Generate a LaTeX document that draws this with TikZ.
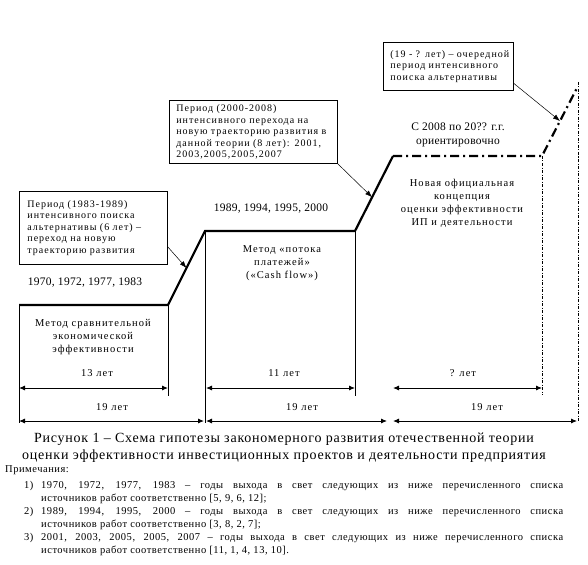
\documentclass[tikz,border=0pt]{standalone}
\usepackage{fontspec}
\setmainfont{Liberation Serif}
\newfontfamily\lsA[LetterSpace=10]{Liberation Serif}
\newfontfamily\lsB[LetterSpace=5]{Liberation Serif}
\newfontfamily\lsCap[LetterSpace=5.5]{Liberation Serif}
\newfontfamily\lsC[LetterSpace=2.5]{Liberation Serif}
\usetikzlibrary{arrows.meta,calc}
\newcommand\fsz[2]{\fontsize{#1}{#2}\selectfont}
\begin{document}
\begin{tikzpicture}[x=1pt,y=-1pt,
  thickline/.style={line width=2.2pt},
  thinline/.style={line width=0.9pt},
  dashdotthick/.style={line width=2.2pt,dash pattern=on 9pt off 4pt on 2pt off 4pt},
  dotthin/.style={line width=0.7pt,dash pattern=on 3pt off 1.5pt on 1pt off 1.5pt},
  dimarrow/.style={line width=0.9pt,{Latex[length=6pt,width=5pt]}-{Latex[length=6pt,width=5pt]}},
  leader/.style={line width=0.5pt,-{Latex[length=7pt,width=5pt]}},
  callout/.style={draw,line width=0.8pt,anchor=north west,inner sep=0pt,align=left,font=\lsA\fsz{10}{11.6}},
  lbl/.style={inner sep=0pt,font=\lsC\fsz{11.5}{13}},
  steptxt/.style={inner sep=0pt,align=center,font=\lsA\fsz{10.5}{13}}
]
\useasboundingbox (0,0) rectangle (588,564);

% staircase coordinates
\coordinate (A0) at (19,305);
\coordinate (A1) at (168,305);
\coordinate (A2) at (205,231);
\coordinate (A3) at (355,231);
\coordinate (A4) at (393,156);
\coordinate (A5) at (542,156);
\coordinate (A6) at (578,86);

\draw[thickline] (A0) -- (A1) -- (A2) -- (A3) -- (A4);
\draw[dashdotthick] (A4) -- (A5) -- (A6);

% verticals
\coordinate (V1) at (19,423);
\coordinate (V2) at (168,396);
\coordinate (V3) at (205,423);
\coordinate (V4) at (355,396);
\coordinate (V5) at (542,395);
\coordinate (V6a) at (578,82);
\coordinate (V6) at (578,421);
\draw[thinline] (A0) -- (V1);
\draw[thinline] (A1) -- (V2);
\draw[thinline] (A2) -- (V3);
\draw[thinline] (A3) -- (V4);
\draw[dotthin] (A5) -- (V5);
\draw[dotthin] (V6a) -- (V6);

% dimension arrows
\coordinate (d1a) at (19,388);  \coordinate (d1b) at (168,388);
\coordinate (d2a) at (19,421);  \coordinate (d2b) at (204,421);
\coordinate (d3a) at (206,388); \coordinate (d3b) at (355,388);
\coordinate (d4a) at (206,421); \coordinate (d4b) at (387,421);
\coordinate (d5a) at (393,388); \coordinate (d5b) at (542,388);
\coordinate (d6a) at (393,421); \coordinate (d6b) at (577,421);
\draw[dimarrow] (d1a) -- (d1b);
\draw[dimarrow] (d2a) -- (d2b);
\draw[dimarrow] (d3a) -- (d3b);
\draw[dimarrow] (d4a) -- (d4b);
\draw[dimarrow] (d5a) -- (d5b);
\draw[dimarrow] (d6a) -- (d6b);

\node[steptxt] (l13) at (97,373) {13 лет};
\node[steptxt] (l19a) at (112,407) {19 лет};
\node[steptxt] (l11) at (284,373) {11 лет};
\node[steptxt] (l19b) at (302,407) {19 лет};
\node[steptxt] (lq) at (463,373) {? лет};
\node[steptxt] (l19c) at (487,407) {19 лет};

% step texts
\node[steptxt] (m1) at (93,337) {Метод сравнительной\\экономической\\эффективности};
\node[steptxt] (m2) at (282,263) {Метод «потока\\платежей»\\(«Cash flow»)};
\node[steptxt] (m3) at (462,203) {Новая официальная\\концепция\\оценки эффективности\\ИП и деятельности};
\node[steptxt,font=\lsC\fsz{11.5}{14}] (m4) at (458,135) {С 2008 по 20?? г.г.\\ориентировочно};

\node[lbl] (y1) at (85,283) {1970, 1972, 1977, 1983};
\node[lbl] (y2) at (271,209) {1989, 1994, 1995, 2000};

% callouts
\node[callout,minimum width=148pt,minimum height=73pt,text width=148pt] (b1) at (19,191)
  {\hspace*{8pt}\parbox{138pt}{\raggedright Период (1983-1989)\\интенсивного поиска\\альтернативы (6 лет) –\\переход на новую\\траекторию развития}};
\node[callout,minimum width=168pt,minimum height=63pt,text width=168pt] (b2) at (169,100)
  {\hspace*{7pt}\parbox{160pt}{\raggedright Период (2000-2008)\\интенсивного перехода на\\новую траекторию развития в\\данной теории (8 лет): 2001,\\2003,2005,2005,2007}};
\node[callout,minimum width=130pt,minimum height=48pt,text width=130pt] (b3) at (383,42)
  {\hspace*{7pt}\parbox{122pt}{\raggedright (19 - ? лет) – очередной\\период интенсивного\\поиска альтернативы}};

\coordinate (t1) at ($(A1)!0.5!(A2)$);
\coordinate (t2) at ($(A3)!0.45!(A4)$);
\coordinate (t3) at ($(A5)!0.5!(A6)$);
\draw[leader] ([yshift=-19pt]b1.east) -- (t1);
\draw[leader] (b2.south east) -- (t2);
\draw[leader] ([yshift=-17pt]b3.east) -- (t3);

% caption
\node[inner sep=0pt,align=center,font=\lsCap\fsz{14}{17}] (cap) at (284,448)
  {Рисунок 1 – Схема гипотезы закономерного развития отечественной теории\\оценки эффективности инвестиционных проектов и деятельности предприятия};
\node[inner sep=0pt,anchor=west,font=\lsB\fsz{10.5}{13}] (notes) at (5,470) {Примечания:};
\node[inner sep=0pt,anchor=north west,font=\lsB\fsz{10.5}{13}] (list) at (24,481)
  {\parbox{539pt}{%
  \hangindent=17pt\hangafter=1\noindent\makebox[17pt][l]{1)}1970, 1972, 1977, 1983 – годы выхода в свет следующих из ниже перечисленного списка\linebreak источников работ соответственно [5, 9, 6, 12];\par
  \hangindent=17pt\hangafter=1\noindent\makebox[17pt][l]{2)}1989, 1994, 1995, 2000 – годы выхода в свет следующих из ниже перечисленного списка\linebreak источников работ соответственно [3, 8, 2, 7];\par
  \hangindent=17pt\hangafter=1\noindent\makebox[17pt][l]{3)}2001, 2003, 2005, 2005, 2007 – годы выхода в свет следующих из ниже перечисленного списка\linebreak источников работ соответственно [11, 1, 4, 13, 10].}};
\end{tikzpicture}
\end{document}
